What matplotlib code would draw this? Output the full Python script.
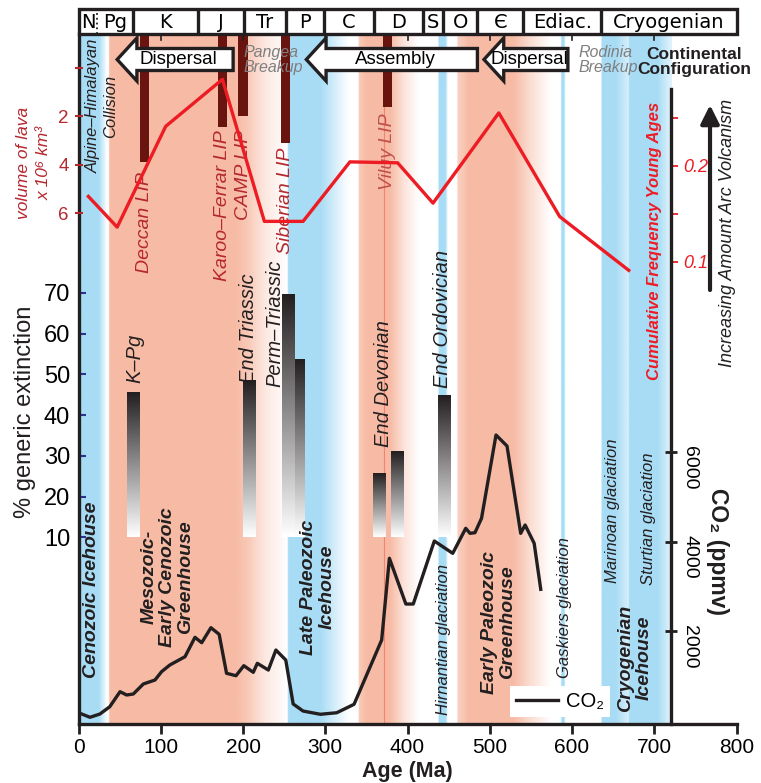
import numpy as np
import matplotlib.pyplot as plt
from matplotlib import transforms
from matplotlib.patches import Polygon, Rectangle
from matplotlib.colors import LinearSegmentedColormap, to_rgb

SANS = ['Liberation Sans', 'DejaVu Sans']
plt.rcParams['font.family'] = SANS

# ---- values ----
# geologic time scale (Ma)
period_names = ["N", "Pg", "K", "J", "Tr", "P", "C", "D", "S", "O", "Є", "Ediac.", "Cryogenian"]
period_bounds = [0, 23, 66, 145, 201, 252, 299, 359, 419, 443, 485, 541, 635, 800]

# large igneous provinces: age (Ma), volume of lava (x10^6 km^3)
lip_names = ["Deccan LIP", "Karoo–Ferrar LIP", "CAMP LIP", "Siberian LIP", "Viluy LIP"]
lip_age = [80, 175, 200, 252, 376]
lip_volume = [3.9, 2.45, 2.0, 3.1, 1.6]

# cumulative frequency of young ages (arc volcanism)
freq_age = [12, 47, 106, 175, 226, 273, 330, 388, 431, 511, 585, 669]
freq_val = [0.168, 0.136, 0.241, 0.290, 0.142, 0.142, 0.204, 0.203, 0.161, 0.255, 0.147, 0.091]

# mass extinctions, % generic extinction (Capitanian drawn before Perm-Triassic)
ext_age = [67, 208, 267, 255, 366, 387, 445]
ext_pct = [45.5, 48.5, 53.5, 69.5, 25.5, 31.0, 44.8]

# atmospheric CO2 (ppmv)
co2_age = [1.8, 14, 26, 38, 50.5, 58.6, 66.6, 78.8, 93, 101, 111, 129.5, 141.6, 149.8,
           161, 171, 180, 191.5, 201, 212.5, 217.4, 230.8, 240, 252, 261, 273, 294, 314,
           335, 368.6, 378, 398, 407, 432.6, 455, 470.8, 476, 482, 490, 507.6, 521,
           537.6, 543, 554, 562]
co2_ppm = [161, 72, 145, 308, 644, 570, 592, 816, 905, 1091, 1240, 1426, 1859, 1739,
           2074, 1926, 1055, 1001, 1225, 1077, 1278, 1128, 1575, 1352, 369, 212, 139, 174,
           362, 1799, 3625, 2603, 2603, 4011, 3736, 4295, 4183, 4197, 4518, 6380, 6134,
           4183, 4369, 3960, 2932]

# icehouse (blue) and greenhouse (salmon) shading, intensity by age
blue_age = [0, 24, 34, 253, 254, 293, 312, 328, 436, 437, 445, 448, 585, 586, 589, 591,
            634, 635, 652, 667.5, 668, 703, 716, 720]
blue_val = [1, 1, 0, 0, 1, 1, 0.45, 0, 0, 1, 1, 0, 0, 1, 1, 0,
            0, 1, 1, 0.45, 1, 1, 0.45, 0.35]
salmon_age = [0, 36, 37, 190, 205, 225, 245, 253, 339, 340, 349, 378, 395, 413,
              459, 460, 468, 472, 528, 548, 573, 720]
salmon_val = [0, 0, 1, 1, 0.8, 0.35, 0.1, 0, 0, 0.75, 1, 1, 0.4, 0,
              0, 0.7, 0.85, 1, 1, 0.5, 0, 0]

# continental configuration arrows (tip, tail in Ma)
arrow_names = ["Dispersal", "Assembly", "Dispersal"]
arrow_tip = [47, 277, 493]
arrow_tail = [188, 485, 595]

DARK = '#231f20'
RED = '#ed1c24'
LAVA_RED = '#b5282e'
LIP_BAR = '#6a1410'
BLUE = '#a8dcf5'
SALMON = '#f7bba5'

# ---- layout ----
W, H = 761, 783
fig = plt.figure(figsize=(W / 100, H / 100), dpi=100)
X0, X800 = 78.5, 736.5
Y_TOP, Y_BOT = 34, 724


def fy(py):
    return 1 - py / H


ax = fig.add_axes([X0 / W, fy(Y_BOT), (X800 - X0) / W, (Y_BOT - Y_TOP) / H])
ext_lim = (-35.77, 133.56)
tr = transforms.blended_transform_factory(ax.transData, fig.transFigure)

# background climate shading
grid = np.linspace(0, 720, 2881)
b = np.interp(grid, blue_age, blue_val)[:, None]
s = np.interp(grid, salmon_age, salmon_val)[:, None]
white = np.ones(3)
rgb = white + b * (np.array(to_rgb(BLUE)) - white) + s * (np.array(to_rgb(SALMON)) - white)
ax.imshow(rgb[None, :, :], extent=[0, 720, *ext_lim], aspect='auto',
          interpolation='bilinear', zorder=0)
ax.axvline(372, color='#f4846f', lw=0.8, zorder=1)

# extinction bars with vertical gradient
ext_cmap = LinearSegmentedColormap.from_list("ext", ["#ffffff", DARK])
ramp = np.linspace(0, 1, 256)[:, None]
for a, p in zip(ext_age, ext_pct):
    ax.imshow(ramp, extent=[a - 7.5, a + 7.5, 10, p], origin='lower', cmap=ext_cmap,
              aspect='auto', zorder=2)

ax.set_xlim(0, 800)
ax.set_ylim(*ext_lim)
for k in ['top', 'right']:
    ax.spines[k].set_visible(False)
for k in ['left', 'bottom']:
    ax.spines[k].set_linewidth(2.4)
    ax.spines[k].set_color(DARK)
ax.set_xticks(range(0, 801, 100))
ax.tick_params(axis='x', direction='out', length=7, width=2, color=DARK, labelsize=15, pad=3)
ax.set_yticks(range(10, 71, 10))
ax.tick_params(axis='y', direction='in', length=5, width=1.5, color='#2e3192',
               labelsize=17, pad=6)

# lava volume axis (top, inverted)
ax_lava = ax.twinx()
ax_lava.set_ylim(27.14, -1.407)
for sp in ax_lava.spines.values():
    sp.set_visible(False)
ax_lava.yaxis.tick_left()
ax_lava.set_yticks([0, 2, 4, 6], ['', '2', '4', '6'])
ax_lava.tick_params(axis='y', direction='inout', length=6, width=1.5, color=LAVA_RED,
                    labelcolor=LAVA_RED, labelsize=13.5, pad=4)
lava_top = ax_lava.get_ylim()[1]
ax_lava.bar(lip_age, [v - lava_top for v in lip_volume], bottom=lava_top, width=11,
            color=LIP_BAR, zorder=2)
lip_top_px = [172, 130, 130, 148, 113]
for name, a, ypx in zip(lip_names, lip_age, lip_top_px):
    c = '#c0504d' if name.startswith('Viluy') else LAVA_RED
    ax_lava.text(a, fy(ypx), name, transform=tr, rotation=90, ha='center', va='top',
                 fontsize=14, style='italic', color=c, zorder=3)
for a, s_ in [(200.5, "Pangea\nBreakup"), (607.3, "Rodinia\nBreakup")]:
    ax_lava.text(a, fy(60), s_, transform=tr, ha='left', va='center', fontsize=11.5,
                 style='italic', color='#7f7f7f', linespacing=0.95, zorder=3)

# cumulative frequency axis (right)
ax_freq = ax.twinx()
ax_freq.set_ylim(-0.3816, 0.3372)
for k in ['top', 'left', 'bottom']:
    ax_freq.spines[k].set_visible(False)
ax_freq.spines['right'].set_position(('data', 720))
ax_freq.spines['right'].set_bounds(-0.3816, 0.280)
ax_freq.spines['right'].set_linewidth(2.4)
ax_freq.spines['right'].set_color(DARK)
ax_freq.set_yticks([0.1, 0.15, 0.2, 0.25], ['0.1', '', '0.2', ''])
ax_freq.tick_params(axis='y', direction='out', length=5, width=1.3, color=RED,
                    labelcolor=RED, labelsize=13, pad=4)
for t in ax_freq.get_yticklabels():
    t.set_fontstyle('italic')
ax_freq.plot(freq_age, freq_val, color=RED, lw=2.4, zorder=3)

# CO2 axis (right)
ax_co2 = ax.twinx()
ax_co2.set_ylim(-78, 15341)
for sp in ax_co2.spines.values():
    sp.set_visible(False)
ax_co2.spines['right'].set_position(('data', 720))
ax_co2.set_yticks([2000, 4000, 6000])
ax_co2.tick_params(axis='y', direction='inout', length=9, width=2, color=DARK,
                   labelsize=14, pad=3, labelrotation=-90)
ax_co2.plot(co2_age, co2_ppm, color=DARK, lw=2.4, label='CO₂', zorder=3)
leg = ax_co2.legend(loc='lower left', bbox_to_anchor=(510 / W, fy(717)),
                    bbox_transform=fig.transFigure, frameon=True, fancybox=False,
                    framealpha=1, facecolor='white', edgecolor='none', borderpad=0.3,
                    handlelength=2.1, handletextpad=0.4, borderaxespad=0,
                    prop=dict(size=14.5))

# geologic time scale bar
ax_ts = fig.add_axes([X0 / W, fy(Y_TOP), (X800 - X0) / W, 25 / H])
ax_ts.set_xlim(0, 800)
ax_ts.set_ylim(0, 1)
ax_ts.axis('off')
ax_ts.add_patch(Rectangle((0, 0), 800, 1, facecolor='white', edgecolor=DARK, lw=2.4,
                          clip_on=False))
for i, name in enumerate(period_names):
    lo, hi = period_bounds[i], period_bounds[i + 1]
    ax_ts.text((lo + hi) / 2, 0.47, name, ha='center', va='center', fontsize=14,
               family=['DejaVu Sans'])
for edge in period_bounds[1:-1]:
    if edge == 23:
        ax_ts.plot([edge, edge], [0, 1], color=DARK, lw=1.3, ls=':')
    else:
        ax_ts.plot([edge, edge], [0, 1], color=DARK, lw=2.4)
for t in range(100, 800, 100):
    ax_ts.plot([t, t], [0, -0.25], color=DARK, lw=1.2, clip_on=False)

# continental configuration arrows
yc, hh, bh, hl = fy(59.5), 21.5 / H, 11 / H, 24
for name, tip, tail in zip(arrow_names, arrow_tip, arrow_tail):
    verts = [(tip, yc), (tip + hl, yc + hh), (tip + hl, yc + bh), (tail, yc + bh),
             (tail, yc - bh), (tip + hl, yc - bh), (tip + hl, yc - hh)]
    ax_co2.add_patch(Polygon(verts, closed=True, transform=tr, facecolor='white',
                             edgecolor=DARK, lw=2.4, joinstyle='miter', clip_on=False,
                             zorder=5))
    ax_co2.text((tip + tail) / 2 + 4, yc, name, transform=tr, ha='center', va='center',
                fontsize=13.5, zorder=6)
ax_co2.text(748.3, fy(62), "Continental\nConfiguration", transform=tr, ha='center',
            va='center', fontsize=12.5, weight='bold', linespacing=1.0, color=DARK)

# extinction labels
for s_, a, ypx in [("K–Pg", 68.7, 383), ("End Triassic", 206.7, 383),
                   ("Perm–Triassic", 239, 387), ("End Devonian", 371, 447),
                   ("End Ordovician", 442, 388)]:
    ax.text(a, fy(ypx), s_, transform=tr, rotation=90, ha='center', va='bottom',
            fontsize=14.5, style='italic', color=DARK, zorder=3)

# climate-state labels
for s_, a, ypx in [("Mesozoic-\nEarly Cenozoic\nGreenhouse", 107.6, 577),
                   ("Late Paleozoic\nIcehouse", 290.6, 587),
                   ("Early Paleozoic\nGreenhouse", 511, 622),
                   ("Cryogenian\nIcehouse", 676, 658)]:
    ax.text(a, fy(ypx), s_, transform=tr, rotation=90, ha='center', va='center',
            fontsize=14, style='italic', weight='bold', linespacing=1.1, color=DARK,
            zorder=3)
ax.text(16.4, fy(678), "Cenozoic Icehouse", transform=tr, rotation=90, ha='center',
        va='bottom', fontsize=14, style='italic', weight='bold', color=DARK, zorder=3)
for s_, a, ypx in [("Hirnantian glaciation", 443.2, 715),
                   ("Gaskiers glaciation", 590.3, 678),
                   ("Marinoan glaciation", 649.8, 583),
                   ("Sturtian glaciation", 693.6, 585)]:
    ax.text(a, fy(ypx), s_, transform=tr, rotation=90, ha='center', va='bottom',
            fontsize=12, style='italic', color=DARK, zorder=3)
ax.text(28.6, fy(106), "Alpine–Himalayan\nCollision", transform=tr, rotation=90,
        ha='center', va='center', fontsize=12, style='italic', color=DARK,
        linespacing=1.15, zorder=3)

# right-hand annotations
ax_co2.text(700.9, fy(380), "Cumulative Frequency Young Ages", transform=tr, rotation=90,
            ha='center', va='bottom', fontsize=12, style='italic', weight='bold',
            color=RED)
ax_co2.text(789.6, fy(367), "Increasing Amount Arc Volcanism", transform=tr, rotation=90,
            ha='center', va='bottom', fontsize=13, style='italic', color=DARK)
ax_co2.annotate('', xy=(767.8, fy(105)), xytext=(767.8, fy(290)), xycoords=tr,
                textcoords=tr, annotation_clip=False,
                arrowprops=dict(arrowstyle='-|>', lw=3, color=DARK, mutation_scale=28,
                                shrinkA=0, shrinkB=0))
ax_co2.text(776.3, fy(552), "CO₂ (ppmv)", transform=tr, rotation=-90, ha='center',
            va='center', fontsize=16.5, weight='bold', color=DARK)

# axis titles
fig.text(407 / W, fy(771), "Age (Ma)", ha='center', va='center', fontsize=15.5,
         weight='bold', color=DARK)
fig.text(25 / W, fy(412), "% generic extinction", rotation=90, ha='center', va='center',
         fontsize=17, color=DARK)
fig.text(34 / W, fy(163), "volume of lava\nx 10⁶ km³", rotation=90, ha='center',
         va='center', fontsize=12.5, style='italic', color=LAVA_RED, linespacing=1.45)

fig.savefig("out.png", dpi=100, facecolor='white')
